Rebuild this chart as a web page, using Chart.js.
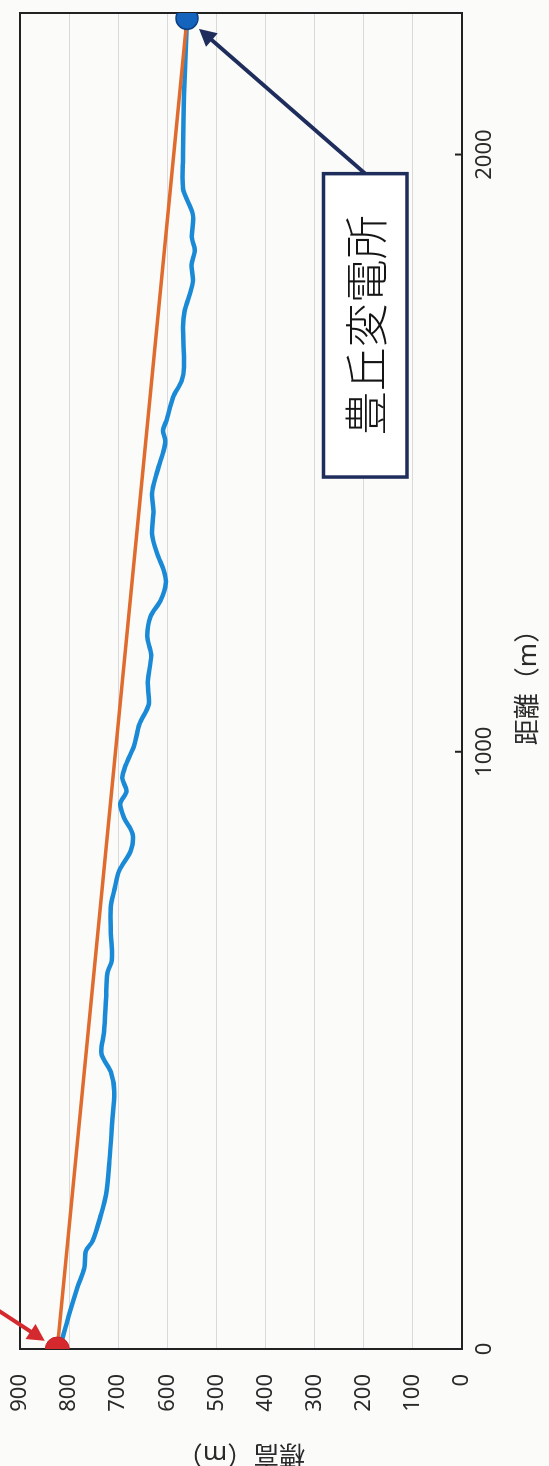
<!DOCTYPE html>
<html>
<head>
<meta charset="utf-8">
<script src="https://cdn.jsdelivr.net/npm/chart.js@4.4.1/dist/chart.umd.min.js"></script>
<style>
  html, body { margin: 0; padding: 0; background: #fbfbf9; overflow: hidden; }
  /* the chart is drawn landscape, then turned a quarter to the left like the scan */
  #wrap { position: absolute; left: 0; top: 0; width: 1466px; height: 549px;
          transform-origin: 0 0; transform: translate(0, 1466px) rotate(-90deg); }
</style>
</head>
<body>
<div id="wrap"><canvas id="chart" width="1466" height="549"></canvas></div>
<script>
// profile: distance (m) / elevation (m)
const distances = [0, 31, 58, 103, 136, 164, 181, 225, 258, 314, 381, 431, 464, 494, 530, 585,
  630, 650, 697, 740, 768, 801, 835, 863, 889, 913, 934, 956, 979, 1012, 1046, 1079, 1117, 1162,
  1193, 1227, 1253, 1282, 1303, 1332, 1365, 1403, 1432, 1465, 1500, 1521, 1538, 1554, 1594, 1621,
  1644, 1711, 1737, 1787, 1815, 1840, 1860, 1899, 1943, 1998, 2100, 2228];
const elevations = [820, 809, 800, 783, 769, 766, 752, 735, 725, 718, 712, 708, 715, 734, 729, 725,
  722, 713, 715, 715, 708, 698, 674, 671, 688, 696, 683, 692, 684, 667, 657, 638, 640, 633,
  641, 634, 614, 603, 607, 621, 631, 628, 631, 622, 609, 604, 609, 602, 588, 571,
  566, 568, 565, 548, 551, 544, 550, 548, 568, 568, 566, 560];

const startPoint = { x: 0, y: 824 };
const endPoint = { x: 2228, y: 560 };

const xTicks = [0, 1000, 2000];
const yTicks = [0, 100, 200, 300, 400, 500, 600, 700, 800, 900];
const xTitle = "距離（m）";
const yTitle = "標高（m）";
const stationName = "豊丘変電所";

// callout box and arrow tail, in data units
const calloutBox = { x0: 1460, x1: 1968, y0: 112, y1: 282 };
const redArrowFrom = { x: 65, y: 945 };

Chart.defaults.font.family = "'Noto Sans', 'Noto Sans CJK JP', sans-serif";
Chart.defaults.color = "#2a2a2a";

const profile = distances.map((d, i) => ({ x: d, y: elevations[i] }));

function drawArrow(ctx, x0, y0, x1, y1, gap, color)
{
	const a = Math.atan2(y1 - y0, x1 - x0);
	const c = Math.cos(a), s = Math.sin(a);
	const tx = x1 - c * gap, ty = y1 - s * gap;
	const head = 17, half = 9;
	ctx.save();
	ctx.strokeStyle = color;
	ctx.fillStyle = color;
	ctx.lineWidth = 4;
	ctx.beginPath();
	ctx.moveTo(x0, y0);
	ctx.lineTo(tx - c * head * 0.8, ty - s * head * 0.8);
	ctx.stroke();
	ctx.beginPath();
	ctx.moveTo(tx, ty);
	ctx.lineTo(tx - c * head + s * half, ty - s * head - c * half);
	ctx.lineTo(tx - c * head - s * half, ty - s * head + c * half);
	ctx.closePath();
	ctx.fill();
	ctx.restore();
}

// frame, inward ticks on distance axis
const framePlugin = {
	id: "frame",
	beforeDatasetsDraw(chart)
	{
		const { ctx, chartArea: a, scales } = chart;
		ctx.save();
		ctx.strokeStyle = "#222";
		ctx.lineWidth = 2;
		ctx.strokeRect(a.left, a.top, a.right - a.left, a.bottom - a.top);
		xTicks.forEach(v => {
			const px = scales.x.getPixelForValue(v);
			ctx.beginPath();
			ctx.moveTo(px, a.bottom);
			ctx.lineTo(px, a.bottom - 7);
			ctx.stroke();
		});
		ctx.restore();
	}
};

// callout with station name + the two arrows
const calloutPlugin = {
	id: "callout",
	afterDraw(chart)
	{
		const { ctx, scales } = chart;
		const X = v => scales.x.getPixelForValue(v);
		const Y = v => scales.y.getPixelForValue(v);

		const bx0 = X(calloutBox.x0), bx1 = X(calloutBox.x1);
		const by0 = Y(calloutBox.y1), by1 = Y(calloutBox.y0);
		const midY = (by0 + by1) / 2;

		drawArrow(ctx, bx1, midY, X(endPoint.x), Y(endPoint.y), 16, "#1f2d5c");
		drawArrow(ctx, X(redArrowFrom.x), Y(redArrowFrom.y), X(startPoint.x), Y(startPoint.y), 15, "#d42a2f");

		ctx.save();
		ctx.fillStyle = "#ffffff";
		ctx.fillRect(bx0, by0, bx1 - bx0, by1 - by0);
		ctx.strokeStyle = "#1f2d5c";
		ctx.lineWidth = 3.5;
		ctx.strokeRect(bx0, by0, bx1 - bx0, by1 - by0);
		ctx.fillStyle = "#151515";
		ctx.font = "300 44px 'Noto Sans CJK JP', sans-serif";
		ctx.textAlign = "center";
		ctx.textBaseline = "middle";
		ctx.fillText(stationName, (bx0 + bx1) / 2, midY + 1);
		ctx.restore();
	}
};

new Chart(document.getElementById("chart"), {
	type: "scatter",
	data: {
		datasets: [
			{
				label: "start",
				data: [startPoint],
				pointRadius: 12,
				pointBackgroundColor: "#d6292e",
				pointBorderColor: "#c42228",
				pointBorderWidth: 1,
				order: 0
			},
			{
				label: "end",
				data: [endPoint],
				pointRadius: 11,
				pointBackgroundColor: "#1463bd",
				pointBorderColor: "#0e3f80",
				pointBorderWidth: 1.5,
				order: 0
			},
			{
				label: "straight",
				data: [startPoint, endPoint],
				showLine: true,
				borderColor: "#df6c2e",
				borderWidth: 3.5,
				pointRadius: 0,
				order: 1
			},
			{
				label: "profile",
				data: profile,
				showLine: true,
				borderColor: "#1b8ad6",
				borderWidth: 4.5,
				tension: 0.3,
				pointRadius: 0,
				order: 2
			}
		]
	},
	options: {
		responsive: false,
		animation: false,
		devicePixelRatio: 1,
		layout: { padding: { top: 20, right: 7, left: 0, bottom: 0 } },
		plugins: { legend: { display: false }, tooltip: { enabled: false } },
		scales: {
			x: {
				type: "linear",
				min: 0,
				max: 2237,
				// fixed band, no extra room for edge labels
				afterFit: s => { s.height = 87; s.paddingLeft = 0; s.paddingRight = 0; },
				afterBuildTicks: s => { s.ticks = xTicks.map(v => ({ value: v })); },
				grid: { display: false, drawTicks: false },
				border: { display: false },
				ticks: { font: { size: 22 }, padding: 10, maxRotation: 0, callback: v => String(v) },
				title: { display: true, text: xTitle, font: { size: 26, lineHeight: 1.2 }, padding: { top: 0, bottom: 5 } }
			},
			y: {
				min: 0,
				max: 900,
				afterFit: s => { s.width = 117; s.paddingTop = 0; s.paddingBottom = 0; },
				afterBuildTicks: s => { s.ticks = yTicks.map(v => ({ value: v })); },
				grid: { color: "#d9d9d9", lineWidth: 1, drawTicks: false },
				border: { display: false },
				ticks: { font: { size: 22 }, padding: 25, callback: v => String(v) },
				title: { display: true, text: yTitle, font: { size: 26, lineHeight: 1.0 }, padding: { top: 0, bottom: 0 } }
			}
		}
	},
	plugins: [framePlugin, calloutPlugin]
});
</script>
</body>
</html>
